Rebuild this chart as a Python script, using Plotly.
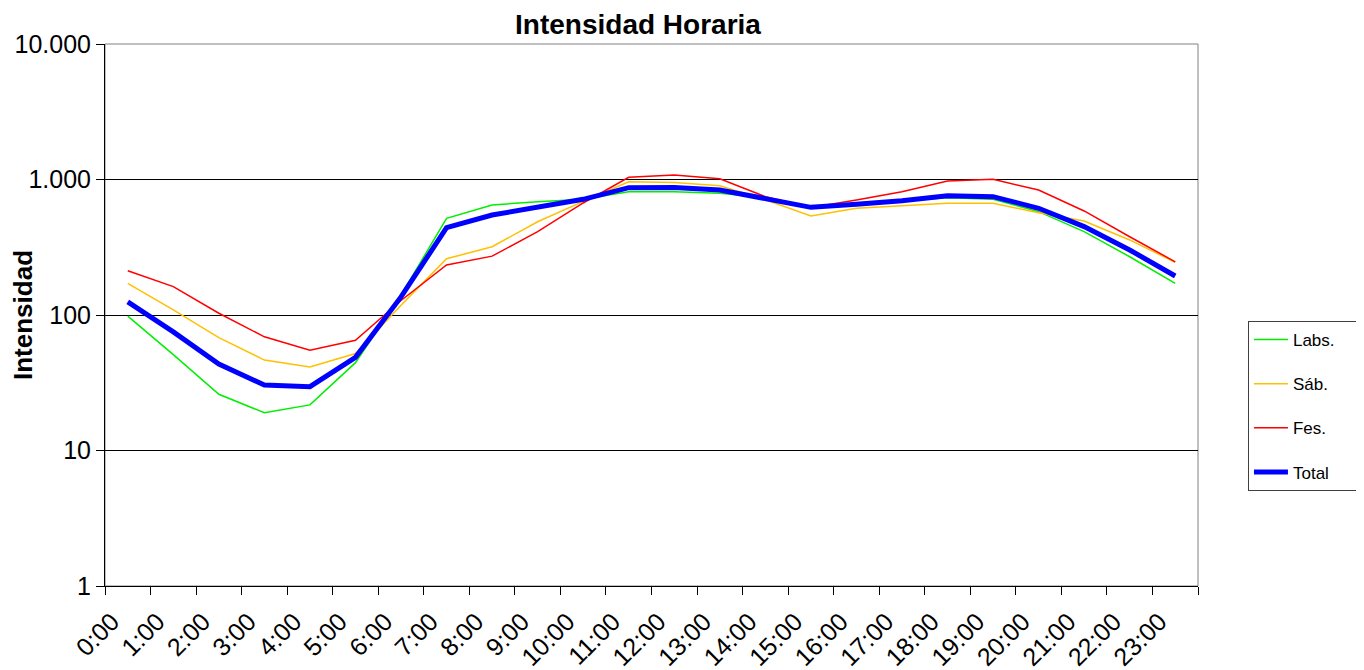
import plotly.graph_objects as go

_FONT = "Arial, Liberation Sans, sans-serif"
_PAD = "\u00a0" * 4  # a bit of room on the right of the legend texts

hours = [f"{h}:00" for h in range(24)]
x_pos = [h + 0.5 for h in range(24)]

labs = [98, 51, 26, 19, 21.7, 44.5, 140, 517, 648, 686, 715, 813, 813, 791,
        735, 630, 648, 698, 734, 714, 579, 412, 269, 171]
sab = [171, 109, 68, 46.5, 41.3, 52, 118, 260, 319, 488, 690, 963, 951, 900,
       708, 538, 613, 641, 667, 667, 569, 494, 358, 245]
fes = [212, 162, 103, 69, 55, 65, 128, 234, 272, 412, 671, 1038, 1080, 1014,
       747, 621, 705, 813, 975, 1003, 836, 586, 378, 247]
total = [125, 75, 43.5, 30.4, 29.6, 48.7, 136, 441, 547, 620, 714, 870, 873, 837,
         726, 623, 656, 698, 760, 747, 613, 449, 302, 194]

series = [
    ("Labs.", labs, "#00ee00", 1.5),
    ("Sáb.", sab, "#ffc000", 1.5),
    ("Fes.", fes, "#ff0000", 1.5),
    ("Total", total, "#0000ff", 5),
]

fig = go.Figure()
for i, (name, vals, color, width) in enumerate(series):
    fig.add_trace(go.Scatter(
        x=x_pos, y=vals, name=name + _PAD, mode="lines",
        line=dict(color=color, width=width),
        legendgroup=f"g{i}",
    ))

fig.add_shape(type="rect", xref="paper", yref="paper", x0=0, x1=1, y0=0, y1=1,
              line=dict(color="#808080", width=1), layer="below")

# page body adds an 8px offset, so margins are shifted by that much
fig.update_layout(
    width=1364, height=670,
    paper_bgcolor="white", plot_bgcolor="white",
    margin=dict(l=97, r=174, t=36, b=92),
    font=dict(family=_FONT, color="black", size=24),
    title=dict(text="<b>Intensidad Horaria</b>", x=(630 / 1364), xanchor="center",
               xref="container", yref="container",
               y=1 - 16 / 670, yanchor="middle", font=dict(size=28, family=_FONT)),
    xaxis=dict(
        range=[0, 24], tickvals=list(range(25)), ticktext=hours + [""],
        tickangle=-45, ticks="outside", ticklen=8, tickcolor="black",
        showline=True, linecolor="black", linewidth=1,
        showgrid=False, zeroline=False, ticklabelshift=7, ticklabelstandoff=2,
        tickfont=dict(size=25), automargin=False,
    ),
    yaxis=dict(
        type="log", range=[0, 4],
        tickvals=[1, 10, 100, 1000, 10000],
        ticktext=["1", "10", "100", "1.000", "10.000"],
        ticks="outside", ticklen=8, tickcolor="black",
        showline=True, linecolor="black", linewidth=1,
        showgrid=True, gridcolor="black", gridwidth=1, zeroline=False,
        title=dict(text="<b>Intensidad</b>", font=dict(size=26), standoff=10),
        tickfont=dict(size=25), automargin=False,
    ),
    legend=dict(
        x=1.0457, xanchor="left", y=0.332, yanchor="middle",
        bordercolor="#404040", borderwidth=1, bgcolor="white",
        font=dict(size=17), tracegroupgap=19, traceorder="grouped",
        itemwidth=34,
    ),
)

fig.write_html("out.html")
